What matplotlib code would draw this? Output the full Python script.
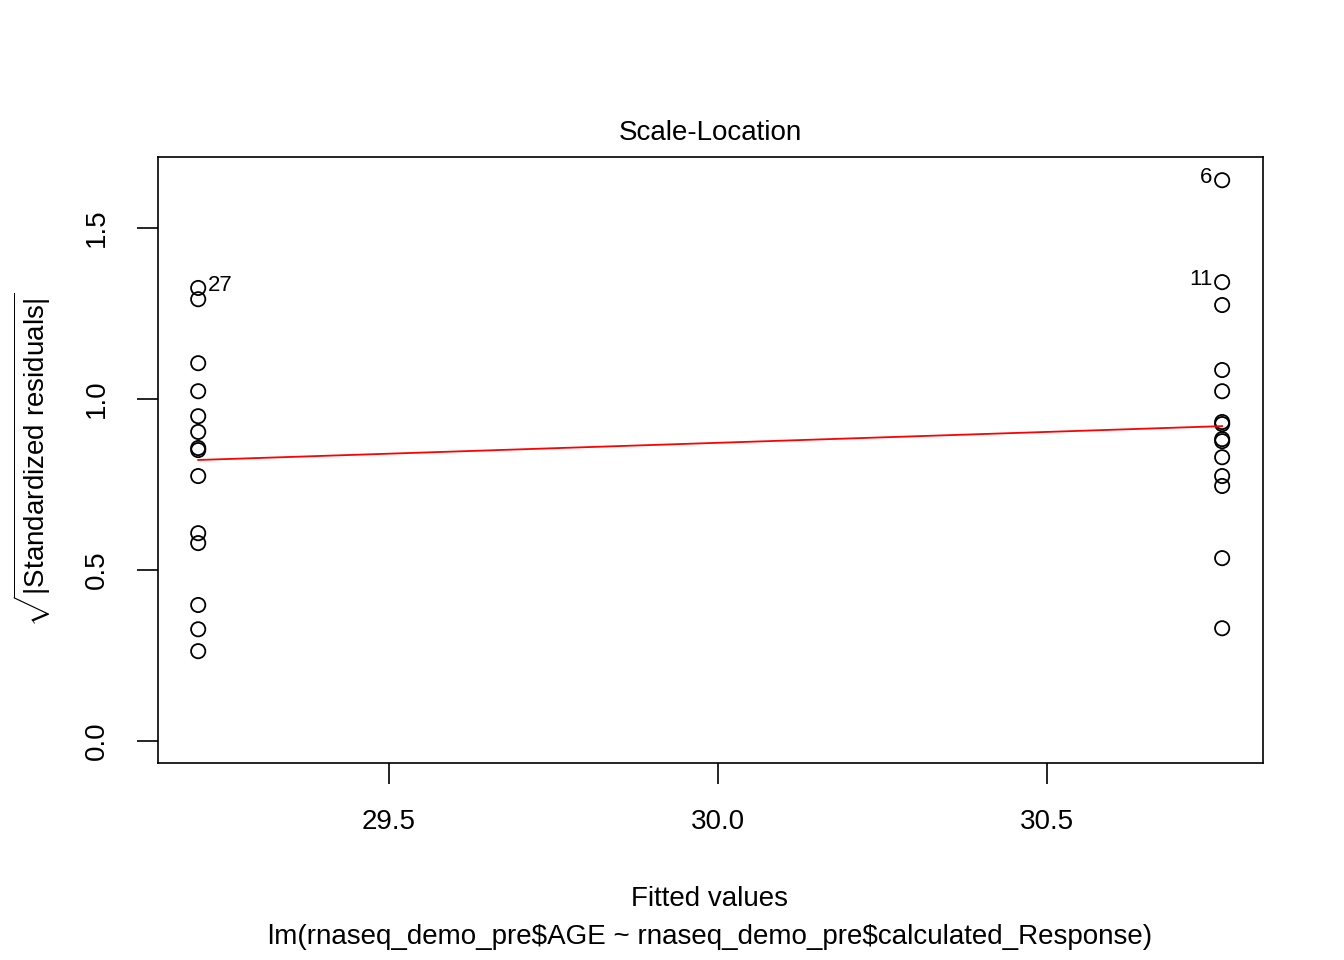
import matplotlib
matplotlib.use("Agg")
import matplotlib.pyplot as plt

plt.rcParams['font.family'] = ['Liberation Sans', 'DejaVu Sans']
plt.rcParams['mathtext.fontset'] = 'custom'
plt.rcParams['mathtext.rm'] = 'Liberation Sans'
plt.rcParams['mathtext.it'] = 'Liberation Sans'

left_x = 29.21
right_x = 30.766
left_y = [1.325, 1.292, 1.105, 1.023, 0.950, 0.904, 0.857, 0.851, 0.775, 0.608, 0.579, 0.398, 0.327, 0.263]
right_y = [1.640, 1.342, 1.275, 1.085, 1.023, 0.933, 0.927, 0.883, 0.877, 0.830, 0.775, 0.746, 0.535, 0.330]
smooth_x = [29.21, 30.766]
smooth_y = [0.822, 0.921]
labels = [("27", left_x, 1.325, 'left'), ("6", right_x, 1.640, 'right'), ("11", right_x, 1.342, 'right')]

fig = plt.figure(figsize=(13.44, 9.6), dpi=100)
ax = fig.add_axes([0.1176, 0.2052, 0.8221, 0.6313])
ax.scatter([left_x]*len(left_y), left_y, s=105, facecolors='none', edgecolors='black', linewidths=1.3)
ax.scatter([right_x]*len(right_y), right_y, s=105, facecolors='none', edgecolors='black', linewidths=1.3)
ax.plot(smooth_x, smooth_y, color='red', lw=1.3)
for t, x, y, ha in labels:
    dx = 0.015 if ha == 'left' else -0.015
    ax.text(x + dx, y + 0.008, t, ha=ha, va='center', fontsize=16)
ax.set_xlim(29.149, 30.828)
ax.set_ylim(-0.064, 1.708)
ax.set_xticks([29.5, 30.0, 30.5])
ax.set_xticklabels(["29.5", "30.0", "30.5"])
ax.set_yticks([0.0, 0.5, 1.0, 1.5])
ax.set_yticklabels(["0.0", "0.5", "1.0", "1.5"], rotation=90, va='center')
ax.tick_params(length=15, width=1.2, labelsize=20)
ax.tick_params(axis='x', pad=18)
ax.tick_params(axis='y', pad=20)
for s in ax.spines.values():
    s.set_linewidth(1.2)
ax.set_title("Scale-Location", fontsize=20, pad=12)
ax.set_ylabel(r"$\sqrt{|\mathrm{Standardized\ residuals}|}$", fontsize=20, labelpad=22)
fig.text(0.528, (960-899)/960, "Fitted values", ha='center', va='center', fontsize=20, parse_math=False)
fig.text(0.528, (960-937)/960, "lm(rnaseq_demo_pre$AGE ~ rnaseq_demo_pre$calculated_Response)",
         ha='center', va='center', fontsize=20, parse_math=False)
fig.savefig("out.png", dpi=100)
